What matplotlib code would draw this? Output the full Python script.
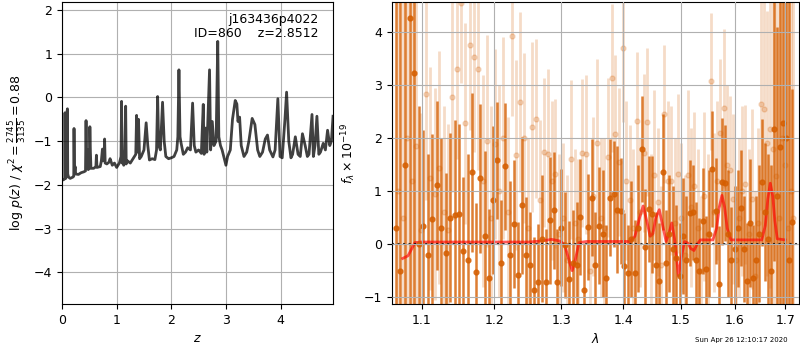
import matplotlib
matplotlib.use("Agg")
import matplotlib.pyplot as plt
from matplotlib.ticker import NullLocator
import numpy as np

# log p(z) curve
z_grid = [0.00, 0.03, 0.05, 0.055, 0.062, 0.07, 0.08, 0.095, 0.10, 0.105, 0.12, 0.15,
          0.20, 0.215, 0.22, 0.228, 0.24, 0.25, 0.30, 0.35, 0.40, 0.43, 0.44, 0.45,
          0.47, 0.48, 0.50, 0.51, 0.52, 0.53, 0.58, 0.62, 0.63, 0.64, 0.70, 0.72,
          0.74, 0.75, 0.77, 0.78, 0.79, 0.82, 0.86, 0.88, 0.92, 0.96, 1.00, 1.05,
          1.08, 1.09, 1.10, 1.12, 1.13, 1.15, 1.165, 1.175, 1.20, 1.25, 1.30, 1.35,
          1.365, 1.38, 1.40, 1.42, 1.45, 1.50, 1.54, 1.57, 1.60, 1.65, 1.70, 1.73,
          1.75, 1.77, 1.80, 1.84, 1.87, 1.90, 1.95, 2.00, 2.05, 2.10, 2.12, 2.14,
          2.16, 2.18, 2.22, 2.26, 2.30, 2.35, 2.39, 2.42, 2.45, 2.50, 2.55, 2.585,
          2.60, 2.63, 2.65, 2.70, 2.72, 2.75, 2.78, 2.82, 2.85, 2.87, 2.90, 2.93,
          2.97, 3.00, 3.03, 3.08, 3.12, 3.17, 3.20, 3.22, 3.25, 3.28, 3.33, 3.38,
          3.42, 3.48, 3.53, 3.58, 3.62, 3.67, 3.72, 3.76, 3.80, 3.86, 3.90, 3.95,
          3.99, 4.03, 4.08, 4.11, 4.15, 4.19, 4.22, 4.27, 4.32, 4.36, 4.40, 4.45,
          4.49, 4.52, 4.575, 4.60, 4.63, 4.665, 4.70, 4.73, 4.78, 4.82, 4.86, 4.90,
          4.93, 4.96]
log_pz = [-1.89, -1.88, -1.86, -0.35, -1.80, -1.85, -1.70, -0.30, -0.26, -1.75, -1.82, -1.85,
          -1.82, -1.80, -0.71, -1.72, -1.58, -1.75, -1.76, -1.72, -1.70, -1.68, -0.53, -1.55,
          -1.20, -1.65, -1.62, -0.67, -1.25, -1.62, -1.62, -1.58, -1.32, -1.60, -1.58, -1.45,
          -1.18, -1.45, -1.35, -0.95, -1.50, -1.52, -1.48, -1.40, -1.55, -1.50, -1.60, -1.50,
          -1.35, -0.09, -1.50, -1.35, -1.55, -1.20, -0.20, -1.52, -1.45, -1.50, -1.40, -1.30,
          -0.41, -1.25, -0.50, -1.40, -1.35, -1.20, -0.58, -1.10, -1.43, -1.40, -1.42, -1.20,
          0.02, -1.10, -1.20, -0.11, -1.00, -1.35, -1.40, -1.38, -1.35, -1.20, -0.90, 0.63,
          -0.90, -1.05, -1.30, -1.25, -1.15, -1.20, -0.13, -1.10, -1.25, -1.20, -1.28, -0.16,
          -1.30, -0.70, -1.25, 0.63, -1.20, -0.55, -1.10, -1.00, 1.28, -0.90, -1.10, -1.20,
          -1.40, -1.55, -1.35, -1.20, -0.50, -0.07, -0.15, -0.55, -0.45, -1.10, -1.35, -1.25,
          -1.00, -0.48, -0.62, -1.20, -1.35, -1.25, -0.95, -0.86, -1.20, -1.36, -1.20, -0.03,
          -1.35, -1.38, -0.50, 0.12, -1.00, -1.38, -1.30, -0.90, -1.30, -1.35, -0.83, -1.10,
          -1.35, -1.30, -0.39, -1.35, -1.10, -0.43, -1.30, -1.25, -1.05, -1.20, -0.75, -1.10,
          -1.00, -0.43]

# spectrum, dark (combined) points, wavelength in Angstrom
wave_dark = [10660, 10720, 10780, 10840, 10900, 10960, 11020, 11080, 11140, 11200,
             11260, 11320, 11380, 11440, 11500, 11560, 11620, 11680, 11740, 11800,
             11860, 11920, 11980, 12040, 12100, 12160, 12220, 12280, 12340, 12400,
             12460, 12520, 12580, 12640, 12700, 12760, 12820, 12880, 12940, 13000,
             13060, 13120, 13180, 13240, 13300, 13360, 13420, 13480, 13540, 13600,
             13660, 13720, 13780, 13840, 13900, 13960, 14020, 14080, 14140, 14200,
             14260, 14320, 14380, 14440, 14500, 14560, 14620, 14680, 14740, 14800,
             14860, 14920, 14980, 15040, 15100, 15160, 15220, 15280, 15340, 15400,
             15460, 15520, 15580, 15640, 15700, 15760, 15820, 15880, 15940, 16000,
             16060, 16120, 16180, 16240, 16300, 16360, 16420, 16480, 16540, 16600,
             16660, 16720, 16780, 16840, 16900, 16960, 17020, 17080, 17140]
flux_dark = [0.3, -0.5, 1.5, 4.26, 3.23, 0.0, 0.35, -0.2, 0.47, 1.11,
             0.3, -0.16, 0.5, 0.55, 0.56, -0.13, -0.3, 1.36, -0.52, 1.24,
             0.15, -0.64, 0.83, 1.58, -0.36, 1.47, -0.2, 0.38, -0.58, 0.73,
             -0.21, -0.39, -0.87, -0.72, 0.1, -0.72, 0.45, 0.64, -0.71, 0.31,
             -0.02, -0.66, -0.35, -0.4, 0.51, -0.87, 0.33, 0.88, -0.4, 0.35,
             0.2, -0.63, 0.88, 0.95, 0.65, 0.62, -0.41, -0.54, 0.1, -0.55,
             0.3, 1.79, -0.06, 0.67, 0.56, -0.4, -0.7, 1.36, -0.36, 0.2,
             -0.1, -0.27, -0.6, 0.15, -0.3, 0.58, 0.6, -0.3, -0.5, 0.44,
             -0.47, 0.2, 1.42, 0.62, -0.75, 1.18, 1.15, 0.2, -0.3, -0.1,
             0.3, 0.68, -0.09, -0.7, 0.4, -0.63, -0.3, 0.2, 1.17, 0.6,
             0.1, -0.5, 2.18, 0.9, 1.84, 2.28, 2.0, -0.3, 0.42]
err_dark = [9.0, 8.0, 7.0, 6.0, 5.0, 2.6, 1.8, 1.9, 1.6, 1.6,
            1.7, 1.5, 1.6, 1.8, 1.7, 1.4, 2.0, 1.5, 1.3, 1.4,
            1.6, 1.3, 1.4, 1.1, 1.2, 1.2, 1.4, 1.2, 1.0, 1.3,
            1.1, 1.0, 1.0, 1.1, 1.2, 1.0, 1.2, 1.1, 1.0, 1.1,
            1.0, 1.1, 1.0, 1.2, 1.1, 0.9, 1.0, 1.1, 1.0, 1.1,
            1.2, 1.0, 1.1, 1.0, 1.2, 1.0, 1.0, 0.9, 1.1, 1.0,
            1.2, 1.0, 1.1, 1.0, 1.1, 1.0, 1.1, 1.1, 1.0, 1.1,
            1.2, 1.0, 1.0, 1.1, 1.2, 1.0, 0.9, 1.1, 1.0, 1.0,
            1.0, 1.2, 1.1, 1.0, 1.1, 1.2, 1.1, 1.2, 1.0, 1.2,
            1.1, 1.1, 1.0, 1.1, 1.2, 1.0, 1.2, 1.3, 1.2, 1.3,
            1.6, 2.0, 2.5, 3.2, 4.0, 5.0, 6.0, 7.0, 2.5]

# spectrum, light (individual beam) points
wave_light = [10690, 10750, 10810, 10870, 10930, 10990, 11050, 11110, 11170, 11230,
              11290, 11350, 11410, 11470, 11530, 11590, 11650, 11710, 11770, 11830,
              11890, 11950, 12010, 12070, 12130, 12190, 12250, 12310, 12370, 12430,
              12490, 12550, 12610, 12670, 12730, 12790, 12850, 12910, 12970, 13030,
              13090, 13150, 13210, 13270, 13330, 13390, 13450, 13510, 13570, 13630,
              13690, 13750, 13810, 13870, 13930, 13990, 14050, 14110, 14170, 14230,
              14290, 14350, 14410, 14470, 14530, 14590, 14650, 14710, 14770, 14830,
              14890, 14950, 15010, 15070, 15130, 15190, 15250, 15310, 15370, 15430,
              15490, 15550, 15610, 15670, 15730, 15790, 15850, 15910, 15970, 16030,
              16090, 16150, 16210, 16270, 16330, 16390, 16450, 16510, 16570, 16630,
              16690, 16750, 16810, 16870, 16930, 16990, 17050, 17110, 17170]
flux_light = [1.0, 0.5, 2.0, 1.2, 1.85, 0.27, 2.84, 1.24, 0.95, 1.44,
              0.6, 0.27, 2.78, 3.30, 4.55, 2.28, 3.76, 3.54, 3.30, 1.2,
              1.95, 0.5, 1.89, 1.0, 2.0, 0.6, 3.92, 1.68, 2.68, 2.0,
              0.3, 2.21, 2.37, 0.84, 1.73, 1.71, 1.2, 1.33, 0.2, 0.5,
              -0.3, 1.6, 0.4, 0.1, 1.72, 1.70, -0.5, 0.9, 1.9, 0.5,
              0.3, 1.64, 3.14, 2.07, 1.55, 3.70, 1.2, 0.84, 0.3, 2.33,
              0.6, 1.72, 2.3, 0.2, 1.3, 0.8, -0.4, 2.45, 1.2, 1.2,
              0.4, 1.33, 0.5, -0.2, 1.3, 0.7, 1.1, 0.3, -0.5, 0.9,
              0.2, 3.07, 0.6, 1.2, 2.1, 2.56, 1.5, 1.4, 0.85, -0.3,
              0.5, 1.0, 1.13, 0.2, 0.85, -0.6, 0.4, 2.65, 2.55, 1.9,
              2.17, 1.8, 1.28, 0.5, 2.0, 1.5, 0.3, 1.0, 0.5]
err_light = [8.0, 7.0, 5.0, 4.0, 3.0, 2.2, 2.0, 2.1, 2.0, 2.2,
             2.0, 2.0, 1.8, 1.7, 1.5, 1.9, 1.6, 1.8, 1.9, 2.0,
             2.0, 2.1, 1.8, 2.0, 1.9, 1.8, 1.5, 1.8, 1.7, 1.6,
             1.7, 1.6, 1.5, 1.5, 1.4, 1.6, 1.5, 1.4, 1.5, 1.4,
             1.6, 1.5, 1.4, 1.5, 1.4, 1.5, 1.4, 1.5, 1.6, 1.5,
             1.7, 1.5, 1.4, 1.5, 1.4, 1.4, 1.5, 1.4, 1.5, 1.3,
             1.4, 1.5, 1.4, 1.5, 1.6, 1.4, 1.5, 1.3, 1.5, 1.4,
             1.6, 1.5, 1.4, 1.5, 1.6, 1.5, 1.4, 1.5, 1.4, 1.6,
             1.5, 1.3, 1.5, 1.5, 1.4, 1.5, 1.5, 1.4, 1.6, 1.4,
             1.5, 1.6, 1.5, 1.6, 1.7, 1.6, 1.8, 2.0, 2.2, 2.5,
             3.0, 3.5, 4.0, 5.0, 6.0, 7.0, 8.0, 8.0, 8.0]

# best-fit model (microns)
wave_model = [1.075, 1.082, 1.091, 1.10, 1.15, 1.20, 1.25, 1.27, 1.285, 1.297,
              1.305, 1.312, 1.317, 1.322, 1.328, 1.34, 1.38, 1.412, 1.420, 1.428,
              1.434, 1.440, 1.446, 1.451, 1.456, 1.462, 1.468, 1.474, 1.479, 1.484,
              1.489, 1.496, 1.502, 1.507, 1.513, 1.518, 1.524, 1.530, 1.536, 1.559,
              1.566, 1.571, 1.576, 1.581, 1.586, 1.593, 1.653, 1.660, 1.665, 1.670,
              1.675, 1.679, 1.684, 1.700]
flux_model = [-0.27, -0.22, 0.03, 0.04, 0.04, 0.04, 0.04, 0.06, 0.09, 0.06,
              0.0, -0.3, -0.5, -0.3, 0.03, 0.05, 0.05, 0.05, 0.15, 0.5,
              0.72, 0.45, 0.15, 0.2, 0.5, 0.65, 0.35, 0.05, 0.2, 0.4,
              0.1, -0.6, -0.2, 0.05, 0.02, -0.08, -0.12, 0.0, 0.08, 0.08,
              0.3, 0.7, 0.92, 0.7, 0.3, 0.08, 0.08, 0.35, 0.85, 1.15,
              0.9, 0.45, 0.1, 0.08]

xticks = [1.1, 1.2, 1.3, 1.4, 1.5, 1.6, 1.7]
obj_text = "j163436p4022\nID=860    z=2.8512"
stamp = "Sun Apr 26 12:10:17 2020"

plt.rcParams["font.size"] = 9
orange = "#d55e00"

fig = plt.figure(figsize=(8, 3.5), dpi=100)

ax1 = fig.add_axes([0.0775, 0.1314, 0.3388, 0.8629])
ax1.plot(z_grid, log_pz, color="k", alpha=0.75, lw=2)
ax1.set_xlim(0, 4.96)
ax1.set_ylim(max(log_pz) - 6, max(log_pz) + 0.9)
ax1.set_xlabel(r"$z$")
ax1.set_ylabel(r"$\log\,p(z)$ / $\chi^2=\frac{2745}{3135}=0.88$")
ax1.grid()
ax1.text(0.948, 0.965, obj_text, ha="right", va="top",
         transform=ax1.transAxes, fontsize=9, linespacing=1.1)

ax2 = fig.add_axes([0.4896, 0.1314, 0.5095, 0.8629])
ax2.errorbar(np.array(wave_light) / 1e4, flux_light, err_light, marker="o", ms=3.5,
             linestyle="none", color=orange, alpha=0.22, elinewidth=2.0)
ax2.errorbar(np.array(wave_dark) / 1e4, flux_dark, err_dark, marker="o", ms=3.5,
             linestyle="none", color=orange, alpha=0.8, elinewidth=1.8)
ax2.plot(wave_model, flux_model, color="r", alpha=0.65, lw=2)
ax2.axhline(0, color="k", linestyle=":", lw=1.5, alpha=0.8)
ax2.set_xscale("log")
ax2.set_xticks(xticks, labels=[str(t) for t in xticks])
ax2.xaxis.set_minor_locator(NullLocator())
ax2.set_xlim(1.061, 1.729)
ax2.set_ylim(-1.13, 4.57)
ax2.set_xlabel(r"$\lambda$")
ax2.set_ylabel(r"$f_\lambda\times10^{-19}$")
ax2.grid()
ax2.set_axisbelow(False)

fig.text(0.985, 0.028, stamp, ha="right", va="center", fontsize=5)

fig.savefig("out.png", dpi=100)
